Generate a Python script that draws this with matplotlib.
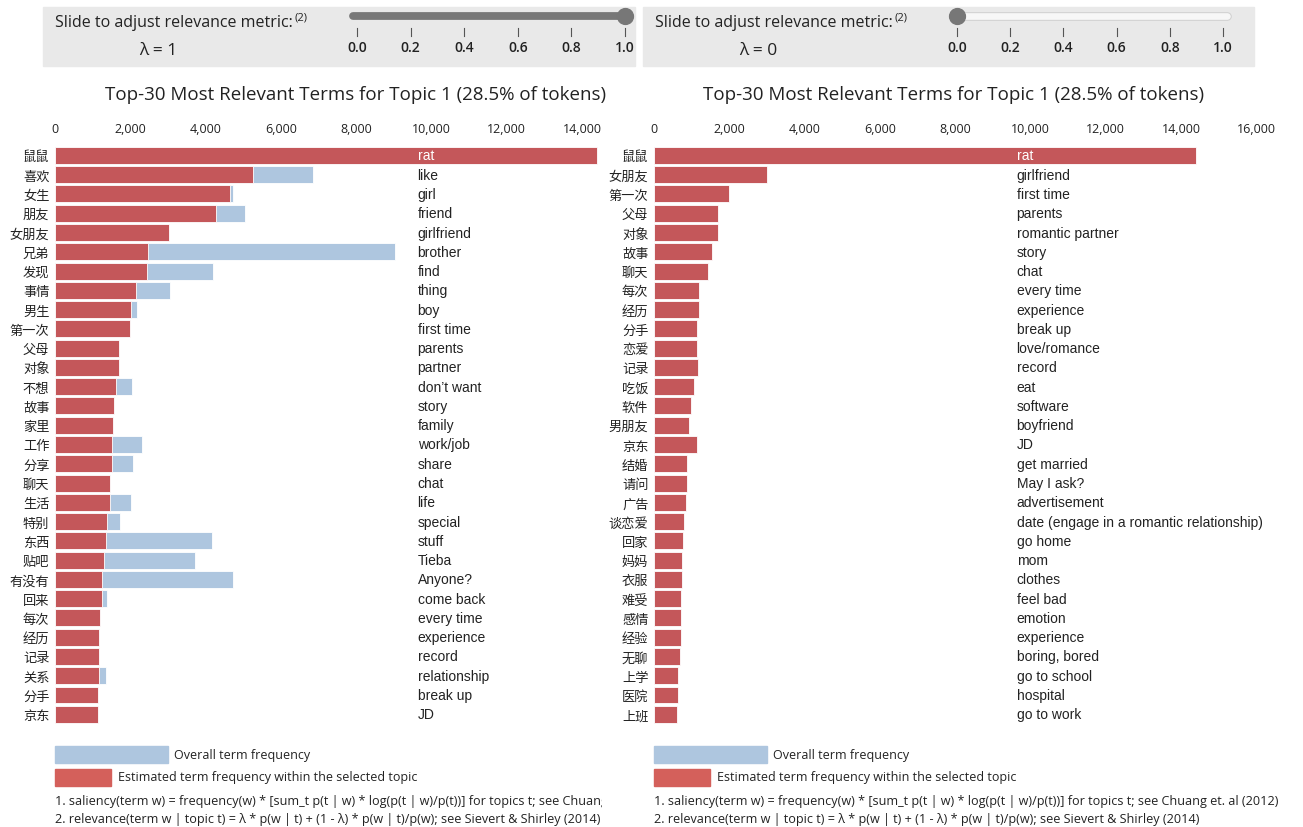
import matplotlib.pyplot as plt
from matplotlib.patches import Rectangle

W, H = 1303, 828

# left panel (lambda = 1)
left_terms = ['鼠鼠', '喜欢', '女生', '朋友', '女朋友', '兄弟', '发现', '事情', '男生', '第一次',
              '父母', '对象', '不想', '故事', '家里', '工作', '分享', '聊天', '生活', '特别',
              '东西', '贴吧', '有没有', '回来', '每次', '经历', '记录', '关系', '分手', '京东']
left_english = ['rat', 'like', 'girl', 'friend', 'girlfriend', 'brother', 'find', 'thing', 'boy', 'first time',
                'parents', 'partner', 'don’t want', 'story', 'family', 'work/job', 'share', 'chat', 'life', 'special',
                'stuff', 'Tieba', 'Anyone?', 'come back', 'every time', 'experience', 'record', 'relationship',
                'break up', 'JD']
left_topic = [14400, 5250, 4650, 4280, 3020, 2470, 2450, 2140, 2010, 1990,
              1695, 1695, 1610, 1560, 1540, 1525, 1505, 1455, 1455, 1370,
              1360, 1295, 1255, 1255, 1190, 1180, 1160, 1160, 1140, 1140]
left_total = [14400, 6840, 4740, 5050, 3020, 9040, 4190, 3050, 2170, 1990,
              1695, 1695, 2050, 1560, 1540, 2315, 2075, 1455, 2020, 1735,
              4160, 3725, 4715, 1380, 1190, 1180, 1160, 1360, 1140, 1140]

# right panel (lambda = 0)
right_terms = ['鼠鼠', '女朋友', '第一次', '父母', '对象', '故事', '聊天', '每次', '经历', '分手',
               '恋爱', '记录', '吃饭', '软件', '男朋友', '京东', '结婚', '请问', '广告', '谈恋爱',
               '回家', '妈妈', '衣服', '难受', '感情', '经验', '无聊', '上学', '医院', '上班']
right_english = ['rat', 'girlfriend', 'first time', 'parents', 'romantic partner', 'story', 'chat', 'every time',
                 'experience', 'break up', 'love/romance', 'record', 'eat', 'software', 'boyfriend', 'JD',
                 'get married', 'May I ask?', 'advertisement', 'date (engage in a romantic relationship)',
                 'go home', 'mom', 'clothes', 'feel bad', 'emotion', 'experience', 'boring, bored',
                 'go to school', 'hospital', 'go to work']
right_topic = [14400, 3000, 1985, 1690, 1690, 1550, 1445, 1195, 1185, 1140,
               1140, 1160, 1055, 990, 940, 1145, 870, 870, 860, 800,
               765, 740, 740, 715, 715, 715, 695, 650, 625, 610]
right_total = [14400, 3000, 1985, 1690, 1690, 1550, 1445, 1195, 1185, 1140,
               1140, 1160, 1055, 990, 940, 1145, 870, 870, 860, 800,
               765, 740, 740, 715, 715, 715, 695, 650, 625, 610]

left_ticks = [0, 2000, 4000, 6000, 8000, 10000, 12000, 14000]
right_ticks = [0, 2000, 4000, 6000, 8000, 10000, 12000, 14000, 16000]
slider_ticks = [0.0, 0.2, 0.4, 0.6, 0.8, 1.0]
lambdas = [1, 0]
title = 'Top-30 Most Relevant Terms for Topic 1 (28.5% of tokens)'

UI = ['Open Sans', 'DejaVu Sans']
CJK = ['Noto Sans CJK SC', 'DejaVu Sans']
TERM = ['Liberation Sans', 'DejaVu Sans']

RED = '#c4575a'
BLUE = '#aec6df'
LEG_RED = '#d4605b'

fig = plt.figure(figsize=(W / 100, H / 100), dpi=100)


def px_axes(x0, y0, x1, y1):
    return fig.add_axes([x0 / W, 1 - y1 / H, (x1 - x0) / W, (y1 - y0) / H])


def fx(x):
    return x / W


def fy(y):
    return 1 - y / H


def header(box_x0, box_x1, s0, s1, lam, filled):
    fig.add_artist(Rectangle((fx(box_x0), fy(67)), (box_x1 - box_x0) / W, 59 / H,
                             transform=fig.transFigure, color='#e9e9e9', zorder=0))
    t = fig.text(fx(box_x0 + 12), fy(23), 'Slide to adjust relevance metric:', family=UI,
                 fontsize=11.5, va='center', ha='left', color='#222')
    fig.text(fx(box_x0 + 115), fy(51), 'λ = %d' % lam, family=UI, fontsize=12.5,
             va='center', ha='center', color='#222')
    ax = px_axes(s0, 8, s1, 67)
    ax.set_xlim(0, 1)
    ax.set_ylim(67, 8)
    ax.axis('off')
    span = s1 - s0
    a, b = -4 / span, 1 + 4 / span
    if filled:
        ax.plot([a, b], [17, 17], color='#787878', lw=5.6, solid_capstyle='round', clip_on=False)
    else:
        ax.plot([a, b], [17, 17], color='#cfcfcf', lw=6.2, solid_capstyle='round', clip_on=False)
        ax.plot([a, b], [17, 17], color='#f7f7f7', lw=4.8, solid_capstyle='round', clip_on=False)
    ax.scatter([lam], [17], s=130, color='#777777', zorder=5, clip_on=False)
    for v in slider_ticks:
        ax.plot([v, v], [29, 37], color='#555', lw=0.8, clip_on=False)
        ax.text(v, 48, '%.1f' % v, ha='center', va='center', family=UI, fontsize=10,
                fontweight='semibold', color='#222', clip_on=False)
    return t


def panel(x0, terms, english, topic, total, ticks, lam, filled, box, slider, title_x, clip_x):
    t = header(box[0], box[1], slider[0], slider[1], lam, filled)
    fig.canvas.draw()
    bb = t.get_window_extent()
    fig.text(bb.x1 / W + 0.001, fy(18), '(2)', family=UI, fontsize=8, va='center', ha='left', color='#222')

    fig.text(fx(title_x), fy(95), title, ha='center', va='center', family=UI, fontsize=13.5, color='#222')

    ax = px_axes(x0, 146.8, x0 + 8 * 75.3, 724.9)
    ax.patch.set_alpha(0)
    ys = list(range(len(terms)))
    ax.barh(ys, total, height=0.88, color=BLUE, edgecolor='white', linewidth=0.6)
    ax.barh(ys, topic, height=0.88, color=RED, edgecolor='white', linewidth=0.6)
    ax.set_xlim(0, 16000)
    ax.set_ylim(len(terms) - 0.5, -0.5)
    ax.xaxis.tick_top()
    ax.set_xticks(ticks)
    ax.set_xticklabels(['{:,}'.format(v) for v in ticks], family=UI, fontsize=9, color='#222')
    ax.set_yticks(ys)
    ax.set_yticklabels(terms, family=CJK, fontsize=9.5, color='#222')
    ax.tick_params(axis='x', length=0, pad=8)
    ax.tick_params(axis='y', length=0, pad=4)
    for s in ax.spines.values():
        s.set_visible(False)
    for i, e in enumerate(english):
        ax.text(9630, i, e, va='center', ha='left', family=TERM, fontsize=10,
                color='white' if i == 0 else '#222')

    # legend
    fig.add_artist(Rectangle((fx(x0), fy(764)), 113 / W, 17 / H, transform=fig.transFigure,
                             color=BLUE))
    fig.text(fx(x0 + 119), fy(755), 'Overall term frequency', family=UI, fontsize=9,
             va='center', ha='left', color='#222')
    fig.add_artist(Rectangle((fx(x0), fy(787)), 56 / W, 17 / H, transform=fig.transFigure,
                             color=LEG_RED))
    fig.text(fx(x0 + 63), fy(778), 'Estimated term frequency within the selected topic', family=UI,
             fontsize=9, va='center', ha='left', color='#222')

    fax = px_axes(x0 - 2, 790, clip_x, 828)
    fax.set_xlim(0, 1)
    fax.set_ylim(828, 790)
    fax.axis('off')
    fax.text(0.003, 802, '1. saliency(term w) = frequency(w) * [sum_t p(t | w) * log(p(t | w)/p(t))] '
             'for topics t; see Chuang et. al (2012)', family=UI, fontsize=9.1, va='center', ha='left',
             color='#222', clip_on=True)
    fax.text(0.003, 819, '2. relevance(term w | topic t) = λ * p(w | t) + (1 - λ) * p(w | t)/p(w); '
             'see Sievert & Shirley (2014)', family=UI, fontsize=9.1, va='center', ha='left',
             color='#222', clip_on=True)


panel(55, left_terms, left_english, left_topic, left_total, left_ticks, lambdas[0], True,
      (43, 635), (357, 625), 355.5, 602)
panel(654, right_terms, right_english, right_topic, right_total, right_ticks, lambdas[1], False,
      (643, 1254), (957, 1223), 954, 1300)

fig.savefig('out.png', dpi=100)
